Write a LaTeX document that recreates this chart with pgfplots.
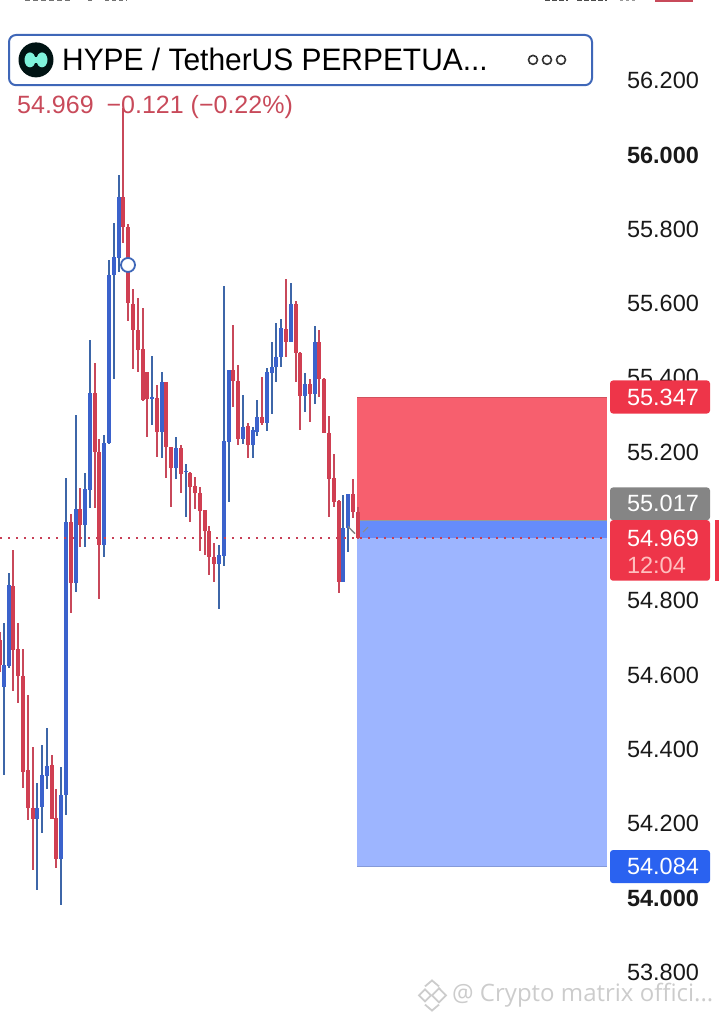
\documentclass[border=0pt]{standalone}
\usepackage{fontspec}
\setmainfont{Liberation Sans}
\newfontfamily\wmfont{Open Sans}
\usepackage{pgfplots}
\usepackage{pgfplotstable}
\pgfplotsset{compat=1.18}

\definecolor{upbody}{HTML}{3B62CC}
\definecolor{upwick}{HTML}{3D66A8}
\definecolor{downbody}{HTML}{D03F52}
\definecolor{downwick}{HTML}{C8485A}
\definecolor{slzone}{HTML}{F75F6E}
\definecolor{tpzone}{HTML}{9DB5FF}
\definecolor{midzone}{HTML}{668CFA}
\definecolor{badgered}{HTML}{EE3549}
\definecolor{badgeblue}{HTML}{2A62F0}
\definecolor{badgegrey}{HTML}{858585}
\definecolor{boxblue}{HTML}{3F67B8}
\definecolor{legendred}{HTML}{C84A5A}
\definecolor{hypeaqua}{HTML}{7FF3DC}

% x is the pixel column of the candle
\pgfplotstableread{
x hi top bot lo
0 54.716 54.695 54.628 54.609
13 54.937 54.840 54.668 54.557
18 54.740 54.671 54.598 54.525
23 54.671 54.598 54.339 54.296
28 54.546 54.344 54.242 54.210
33 54.406 54.242 54.213 54.075
52 54.385 54.358 54.213 54.213
56 54.294 54.216 54.105 54.081
71 55.033 55.012 54.848 54.767
80 55.103 55.047 55.004 54.945
95 55.440 55.360 55.201 55.049
99 55.236 55.201 54.950 54.805
123 56.127 55.887 55.806 55.763
128 55.814 55.806 55.602 55.553
133 55.640 55.599 55.529 55.424
138 55.615 55.529 55.475 55.416
143 55.588 55.478 55.341 55.338
147 55.416 55.416 55.343 55.241
157 55.381 55.346 55.254 55.187
166 55.389 55.389 55.214 55.130
171 55.214 55.214 55.157 55.052
181 55.219 55.211 55.141 55.090
190 55.147 55.144 55.106 55.012
195 55.133 55.109 55.090 55.047
200 55.106 55.090 55.041 54.934
205 55.044 55.044 54.987 54.923
209 55.001 54.988 54.918 54.869
214 54.956 54.918 54.899 54.851
233 55.542 55.421 55.392 55.322
238 55.435 55.392 55.236 55.219
248 55.279 55.271 55.219 55.184
262 55.403 55.295 55.279 55.274
286 55.666 55.532 55.497 55.456
296 55.607 55.599 55.467 55.389
300 55.470 55.467 55.352 55.260
310 55.397 55.384 55.357 55.282
319 55.529 55.497 55.397 55.349
324 55.400 55.397 55.252 55.252
329 55.297 55.252 55.128 55.025
334 55.195 55.131 55.066 55.052
339 55.071 55.068 54.851 54.821
353 55.128 55.087 55.039 55.023
358 55.052 55.039 54.969 54.967
}\downcandles

\pgfplotstableread{
x hi top bot lo
4 54.740 54.628 54.568 54.331
9 54.875 54.842 54.625 54.620
37 54.310 54.242 54.213 54.022
42 54.412 54.331 54.245 54.175
47 54.457 54.355 54.328 54.294
61 54.352 54.277 54.105 53.981
66 55.130 55.012 54.277 54.223
76 55.300 55.047 54.848 54.824
85 55.144 55.101 55.004 54.945
90 55.502 55.360 55.098 55.049
104 55.246 55.225 54.950 54.918
109 55.717 55.677 55.225 55.222
114 55.817 55.725 55.677 55.397
119 55.946 55.887 55.723 55.685
152 55.459 55.349 55.343 55.273
162 55.416 55.389 55.254 55.184
176 55.241 55.211 55.157 55.128
186 55.168 55.149 55.147 55.025
219 54.950 54.923 54.899 54.778
224 55.647 55.230 54.921 54.894
229 55.421 55.421 55.227 55.066
243 55.354 55.268 55.236 55.222
253 55.268 55.260 55.219 55.184
257 55.341 55.295 55.254 55.244
267 55.427 55.416 55.279 55.257
272 55.497 55.429 55.413 55.303
276 55.548 55.456 55.429 55.389
281 55.559 55.534 55.456 55.429
291 55.655 55.599 55.497 55.497
305 55.413 55.384 55.352 55.308
315 55.540 55.497 55.357 55.330
343 55.085 54.996 54.851 54.851
348 55.087 55.087 54.996 54.931
}\upcandles

% wick and body of one candle table in one colour
\newcommand{\candles}[3]{%
  \addplot[draw=none,mark=none,forget plot,error bars/.cd,y dir=both,y explicit,error mark=none,
    error bar style={line width=2.1pt,color=#2}]
    table[x=x,y=bot,y error plus expr=\thisrow{hi}-\thisrow{bot},y error minus expr=\thisrow{bot}-\thisrow{lo}] {#1};
  \addplot[draw=none,mark=none,forget plot,error bars/.cd,y dir=plus,y explicit,error mark=none,
    error bar style={line width=4.2pt,color=#3}]
    table[x=x,y=bot,y error plus expr=\thisrow{top}-\thisrow{bot}] {#1};
}

\begin{document}
\begin{tikzpicture}
\begin{axis}[
  scale only axis,width=719pt,height=1023pt,
  xmin=0,xmax=719,ymin=53.6635,ymax=56.4172,
  axis line style={draw=none},
  xtick=\empty,
  ytick={53.8,54,54.2,54.4,54.6,54.8,55,55.2,55.4,55.6,55.8,56,56.2},
  yticklabels={53.800,\textbf{54.000},54.200,54.400,54.600,54.800,,55.200,55.400,55.600,55.800,\textbf{56.000},56.200},
  major tick length=0pt,
  yticklabel pos=right,
  yticklabel style={anchor=west,xshift=-95.5pt,font=\fontsize{23.5}{28}\selectfont,text=black!90},
  clip=false,
  after end axis/.code={
    % cut off status bar at the top edge
    \draw[black!55,line width=1.6pt,dash pattern=on 5pt off 3pt] (axis cs:25,56.4165) -- (axis cs:72,56.4165);
    \draw[black!55,line width=1.6pt,dash pattern=on 4pt off 3pt] (axis cs:88,56.4165) -- (axis cs:92,56.4165) (axis cs:105,56.4165) -- (axis cs:127,56.4165);
    \draw[black!70,line width=2pt,dash pattern=on 5pt off 2pt] (axis cs:545,56.4165) -- (axis cs:568,56.4165) (axis cs:577,56.4165) -- (axis cs:607,56.4165);
    \draw[black!40,line width=1.4pt,dash pattern=on 3pt off 3pt] (axis cs:620,56.4165) -- (axis cs:638,56.4165);
    \draw[legendred,line width=2.5pt] (axis cs:655,56.4155) -- (axis cs:693,56.4155);
    % price badges
    \fill[badgered,rounded corners=3pt] (axis cs:610,55.393) rectangle (axis cs:710,55.304);
    \node[anchor=west,text=white,font=\fontsize{23.5}{28}\selectfont] at (axis cs:623.5,55.347) {55.347};
    \fill[badgegrey,rounded corners=3pt] (axis cs:610,55.105) rectangle (axis cs:710,55.017);
    \node[anchor=west,text=white,font=\fontsize{23.5}{28}\selectfont] at (axis cs:623.5,55.015) [yshift=18pt] {55.017};
    \fill[badgered,rounded corners=3pt] (axis cs:610,55.017) rectangle (axis cs:710,54.854);
    \fill[badgered] (axis cs:715,55.017) rectangle (axis cs:719,54.854);
    \node[anchor=west,text=white,font=\fontsize{23.5}{28}\selectfont] at (axis cs:623.5,54.969) {54.969};
    \node[anchor=west,text=red!25!white,font=\fontsize{23.5}{28}\selectfont] at (axis cs:623.5,54.895) {12:04};
    \fill[badgeblue,rounded corners=3pt] (axis cs:610,54.129) rectangle (axis cs:710,54.040);
    \node[anchor=west,text=white,font=\fontsize{23.5}{28}\selectfont] at (axis cs:623.5,54.084) {54.084};
    % symbol box
    \draw[boxblue,line width=2pt,fill=white,rounded corners=7pt] (axis cs:9,56.323) rectangle (axis cs:592,56.188);
    \fill[black!85!teal] (axis cs:36,56.256) circle (17.5pt);
    \fill[hypeaqua] (axis cs:30,56.256) ellipse (5.5pt and 7.5pt);
    \fill[hypeaqua] (axis cs:42,56.256) ellipse (5.5pt and 7.5pt);
    \fill[hypeaqua] (axis cs:30,56.265) rectangle (axis cs:42,56.247);
    \node[anchor=west,text=black,inner sep=0pt,xscale=.965,font=\fontsize{31}{36}\selectfont] at (axis cs:62,56.256) {HYPE / TetherUS PERPETUA...};
    \draw[black!80,line width=1.6pt] (axis cs:533,56.256) circle (4.5pt) (axis cs:547,56.256) circle (4.5pt) (axis cs:561,56.256) circle (4.5pt);
    \node[anchor=west,text=legendred,inner sep=0pt,font=\fontsize{25}{30}\selectfont] at (axis cs:17,56.130) {54.969\hspace{13pt}−0.121 (−0.22\%)};
    % marker on the chart
    \draw[boxblue,line width=1.8pt,fill=white] (axis cs:128,55.704) circle (7pt);
    % small arrow of the position tool
    \draw[black!50,line width=1.4pt] (axis cs:348,55.000) -- (axis cs:355,54.981);
    \draw[black!45,line width=1pt] (axis cs:363,54.985) -- (axis cs:368,54.998);
    % watermark
    \node[anchor=west,text=black!20,inner sep=0pt,font=\wmfont\fontsize{24}{28}\selectfont] at (axis cs:452,53.738) {@ Crypto matrix offici...};
    \draw[black!20,line width=1.8pt] (axis cs:419,53.738) -- (axis cs:425,53.754) -- (axis cs:431,53.738) -- (axis cs:425,53.722) -- cycle;
    \draw[black!20,line width=1.8pt] (axis cs:432,53.738) -- (axis cs:439,53.757) -- (axis cs:446,53.738) -- (axis cs:439,53.719) -- cycle;
    \draw[black!20,line width=1.8pt] (axis cs:425,53.762) -- (axis cs:432,53.778) -- (axis cs:439,53.762);
    \draw[black!20,line width=1.8pt] (axis cs:425,53.713) -- (axis cs:432,53.697) -- (axis cs:439,53.713);
  },
]
% position tool
\addplot[fill=slzone,draw=none,forget plot] coordinates {(357,55.347) (607,55.347) (607,55.017) (357,55.017)} -- cycle;
\addplot[fill=tpzone,draw=none,forget plot] coordinates {(357,55.017) (607,55.017) (607,54.084) (357,54.084)} -- cycle;
\addplot[fill=midzone,draw=none,forget plot] coordinates {(357,55.017) (607,55.017) (607,54.969) (357,54.969)} -- cycle;
\addplot[slzone!85!black,line width=1.2pt,forget plot] coordinates {(357,55.347) (607,55.347)};
\addplot[black!40,line width=1.2pt,forget plot] coordinates {(357,55.017) (607,55.017)};
\addplot[tpzone!85!black,line width=1.2pt,forget plot] coordinates {(357,54.084) (607,54.084)};

\candles{\downcandles}{downwick}{downbody}
\candles{\upcandles}{upwick}{upbody}

% last price line
\addplot[color=legendred!85!purple,line width=1.8pt,dash pattern=on 1.8pt off 6.2pt,forget plot] coordinates {(0,54.969) (607,54.969)};
\end{axis}
\pgfresetboundingbox
\path[use as bounding box] (current axis.south west) rectangle (current axis.north east);
\end{tikzpicture}
\end{document}
